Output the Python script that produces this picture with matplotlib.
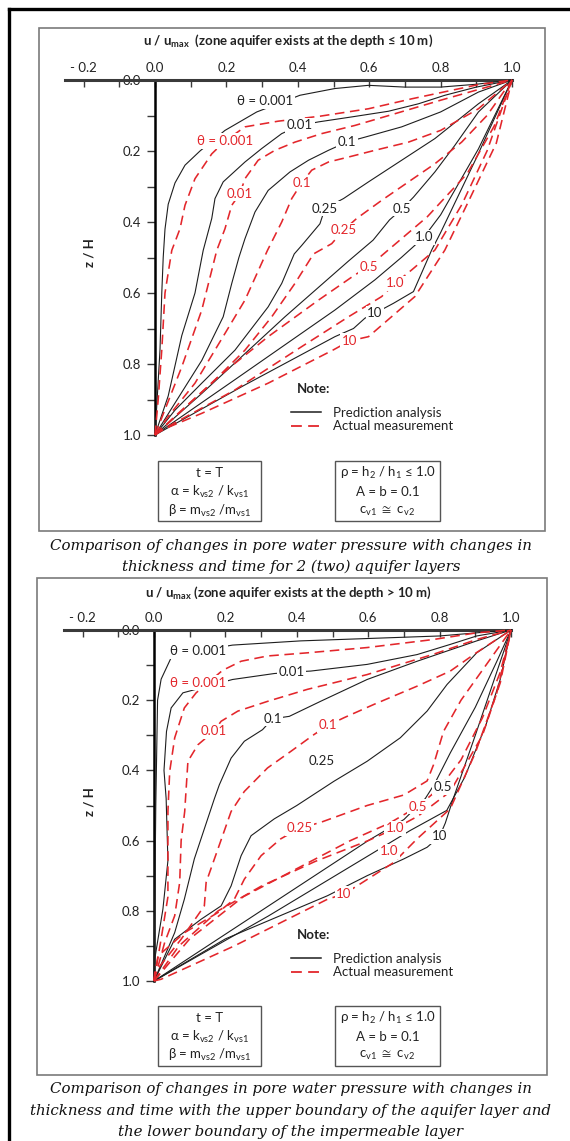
import matplotlib
matplotlib.use('Agg')
import matplotlib.pyplot as plt
from matplotlib.lines import Line2D
from matplotlib.patches import Rectangle
import numpy as np

#####################
# DATA  (u/umax, z/H), one list of points per theta
theta = ['0.001', '0.01', '0.1', '0.25', '0.5', '1.0', '10']

p1_pred = [
    [(0, 1), (0.006, 0.9), (0.014, 0.76), (0.019, 0.6), (0.023, 0.5), (0.028, 0.42), (0.037, 0.35), (0.056, 0.29),
     (0.084, 0.24), (0.126, 0.2), (0.196, 0.142), (0.285, 0.09), (0.35, 0.065), (0.406, 0.043), (0.504, 0.024),
     (0.598, 0.015), (0.7, 0.02), (0.8, 0.02), (0.9, 0.012), (1, 0)],
    [(0, 1), (0.037, 0.89), (0.075, 0.72), (0.112, 0.6), (0.135, 0.48), (0.159, 0.39), (0.168, 0.334), (0.191, 0.287),
     (0.252, 0.231), (0.299, 0.193), (0.355, 0.151), (0.406, 0.128), (0.458, 0.118), (0.551, 0.104), (0.654, 0.088),
     (0.738, 0.067), (0.812, 0.043), (0.9, 0.02), (1, 0)],
    [(0, 1), (0.056, 0.91), (0.131, 0.79), (0.191, 0.667), (0.215, 0.573), (0.235, 0.5), (0.252, 0.447), (0.28, 0.372),
     (0.317, 0.311), (0.378, 0.259), (0.43, 0.226), (0.486, 0.198), (0.537, 0.175), (0.588, 0.161), (0.691, 0.132),
     (0.8, 0.09), (0.906, 0.034), (1, 0)],
    [(0, 1), (0.056, 0.93), (0.131, 0.854), (0.224, 0.761), (0.317, 0.639), (0.355, 0.573), (0.39, 0.49), (0.411, 0.466),
     (0.462, 0.405), (0.476, 0.362), (0.528, 0.334), (0.598, 0.287), (0.691, 0.226), (0.784, 0.165), (0.906, 0.067), (1, 0)],
    [(0, 1), (0.131, 0.883), (0.364, 0.667), (0.542, 0.51), (0.611, 0.451), (0.657, 0.394), (0.692, 0.363), (0.724, 0.33),
     (0.784, 0.259), (0.84, 0.184), (0.906, 0.09), (1, 0)],
    [(0, 1), (0.224, 0.844), (0.504, 0.648), (0.616, 0.563), (0.69, 0.5), (0.753, 0.443), (0.8, 0.38), (0.906, 0.194), (1, 0)],
    [(0, 1), (0.25, 0.86), (0.504, 0.723), (0.556, 0.7), (0.588, 0.671), (0.616, 0.657), (0.668, 0.629), (0.724, 0.596),
     (0.775, 0.479), (0.8, 0.43), (0.9, 0.22), (1, 0)],
]
p1_meas = [
    [(0, 1), (0.009, 0.9), (0.019, 0.76), (0.028, 0.6), (0.047, 0.48), (0.07, 0.419), (0.084, 0.353), (0.112, 0.278),
     (0.159, 0.208), (0.196, 0.172), (0.252, 0.132), (0.345, 0.116), (0.462, 0.102), (0.598, 0.081), (0.719, 0.053),
     (0.906, 0.013), (1, 0)],
    [(0, 1), (0.075, 0.808), (0.131, 0.648), (0.173, 0.48), (0.196, 0.419), (0.215, 0.353), (0.238, 0.32), (0.252, 0.278),
     (0.289, 0.226), (0.336, 0.198), (0.392, 0.175), (0.467, 0.151), (0.56, 0.128), (0.672, 0.095), (0.8, 0.057), (1, 0)],
    [(0, 1), (0.037, 0.948), (0.112, 0.854), (0.196, 0.714), (0.252, 0.62), (0.315, 0.48), (0.355, 0.4), (0.383, 0.334),
     (0.411, 0.29), (0.439, 0.254), (0.486, 0.231), (0.542, 0.217), (0.616, 0.198), (0.71, 0.175), (0.8, 0.142),
     (0.906, 0.081), (1, 0)],
    [(0, 1), (0.065, 0.939), (0.159, 0.854), (0.252, 0.761), (0.327, 0.667), (0.392, 0.573), (0.444, 0.49), (0.495, 0.461),
     (0.528, 0.423), (0.565, 0.39), (0.635, 0.339), (0.71, 0.287), (0.784, 0.236), (0.859, 0.175), (0.93, 0.1), (1, 0)],
    [(0, 1), (0.037, 0.967), (0.177, 0.836), (0.317, 0.723), (0.458, 0.62), (0.56, 0.549), (0.598, 0.526), (0.631, 0.498),
     (0.763, 0.385), (0.875, 0.263), (0.95, 0.13), (1, 0)],
    [(0, 1), (0.037, 0.976), (0.224, 0.873), (0.411, 0.751), (0.542, 0.667), (0.635, 0.61), (0.672, 0.573), (0.719, 0.535),
     (0.784, 0.479), (0.86, 0.35), (0.93, 0.2), (1, 0)],
    [(0, 1), (0.009, 0.99), (0.131, 0.939), (0.317, 0.854), (0.5, 0.76), (0.545, 0.735), (0.598, 0.723), (0.728, 0.61),
     (0.812, 0.479), (0.88, 0.338), (0.956, 0.178), (1, 0)],
]
p1_pred_lab = [(0.308, 0.059, 'θ = 0.001'), (0.406, 0.128, '0.01'), (0.537, 0.175, '0.1'), (0.476, 0.362, '0.25'),
               (0.692, 0.363, '0.5'), (0.753, 0.443, '1.0'), (0.616, 0.657, '10')]
p1_meas_lab = [(0.196, 0.172, 'θ = 0.001'), (0.238, 0.32, '0.01'), (0.411, 0.29, '0.1'), (0.528, 0.423, '0.25'),
               (0.598, 0.526, '0.5'), (0.672, 0.573, '1.0'), (0.545, 0.735, '10')]

p2_pred = [
    [(0, 1), (0.002, 0.8), (0.005, 0.5), (0.01, 0.2), (0.02, 0.14), (0.048, 0.079), (0.123, 0.06), (0.22, 0.043),
     (0.411, 0.031), (0.8, 0.017), (0.904, 0.008), (1, 0)],
    [(0, 1), (0.002, 0.938), (0.025, 0.795), (0.039, 0.657), (0.034, 0.48), (0.028, 0.4), (0.035, 0.289), (0.048, 0.222),
     (0.081, 0.179), (0.22, 0.141), (0.337, 0.124), (0.385, 0.12), (0.439, 0.117), (0.597, 0.098), (0.737, 0.07),
     (0.83, 0.041), (0.904, 0.017), (1, 0)],
    [(0, 1), (0.058, 0.862), (0.085, 0.767), (0.113, 0.652), (0.169, 0.481), (0.183, 0.441), (0.216, 0.365), (0.253, 0.317),
     (0.304, 0.284), (0.332, 0.253), (0.379, 0.246), (0.467, 0.203), (0.597, 0.141), (0.737, 0.089), (0.904, 0.031), (1, 0)],
    [(0, 1), (0.058, 0.881), (0.132, 0.824), (0.188, 0.786), (0.216, 0.729), (0.244, 0.643), (0.272, 0.586), (0.337, 0.538),
     (0.4, 0.5), (0.504, 0.431), (0.597, 0.374), (0.69, 0.307), (0.765, 0.231), (0.821, 0.155), (0.904, 0.065), (1, 0)],
    [(0, 1), (0.3, 0.8), (0.6, 0.6), (0.7, 0.54), (0.76, 0.48), (0.785, 0.44), (0.83, 0.35), (0.9, 0.22), (0.96, 0.09), (1, 0)],
    [(0, 1), (0.32, 0.815), (0.617, 0.633), (0.718, 0.571), (0.82, 0.514), (0.87, 0.42), (0.93, 0.27), (0.97, 0.14), (1, 0)],
    [(0, 1), (0.2, 0.88), (0.486, 0.757), (0.597, 0.7), (0.7, 0.652), (0.765, 0.619), (0.8, 0.588), (0.816, 0.55),
     (0.837, 0.484), (0.9, 0.3), (0.96, 0.12), (1, 0)],
]
p2_meas = [
    [(0, 1), (0.02, 0.88), (0.039, 0.76), (0.039, 0.517), (0.044, 0.403), (0.058, 0.307), (0.085, 0.222), (0.118, 0.179),
     (0.192, 0.115), (0.244, 0.089), (0.318, 0.074), (0.43, 0.065), (0.597, 0.05), (0.783, 0.027), (0.904, 0.008), (1, 0)],
    [(0, 1), (0.03, 0.89), (0.058, 0.814), (0.072, 0.719), (0.076, 0.6), (0.086, 0.517), (0.095, 0.374), (0.123, 0.327),
     (0.167, 0.289), (0.188, 0.26), (0.235, 0.231), (0.319, 0.203), (0.43, 0.169), (0.597, 0.127), (0.783, 0.069),
     (0.904, 0.027), (1, 0)],
    [(0, 1), (0.002, 0.976), (0.076, 0.881), (0.141, 0.786), (0.146, 0.719), (0.179, 0.624), (0.216, 0.517), (0.253, 0.46),
     (0.318, 0.393), (0.383, 0.346), (0.448, 0.298), (0.487, 0.272), (0.532, 0.25), (0.616, 0.212), (0.737, 0.16),
     (0.83, 0.117), (0.904, 0.064), (1, 0)],
    [(0, 1), (0.011, 0.929), (0.086, 0.862), (0.179, 0.805), (0.225, 0.767), (0.253, 0.71), (0.3, 0.643), (0.355, 0.595),
     (0.407, 0.565), (0.467, 0.548), (0.597, 0.5), (0.7, 0.47), (0.765, 0.43), (0.783, 0.384), (0.811, 0.289), (0.86, 0.2),
     (0.93, 0.1), (1, 0)],
    [(0, 1), (0.1, 0.88), (0.25, 0.76), (0.4, 0.68), (0.55, 0.6), (0.66, 0.55), (0.739, 0.503), (0.8, 0.45), (0.86, 0.37),
     (0.92, 0.25), (0.97, 0.12), (1, 0)],
    [(0, 1), (0.07, 0.9), (0.18, 0.8), (0.3, 0.73), (0.45, 0.66), (0.6, 0.6), (0.676, 0.565), (0.74, 0.53), (0.83, 0.46),
     (0.92, 0.3), (0.97, 0.15), (1, 0)],
    [(0, 1), (0.02, 0.995), (0.225, 0.9), (0.486, 0.767), (0.532, 0.752), (0.569, 0.729), (0.672, 0.662), (0.7, 0.633),
     (0.737, 0.595), (0.83, 0.509), (0.9, 0.35), (0.96, 0.18), (1, 0)],
]
p2_pred_lab = [(0.123, 0.06, 'θ = 0.001'), (0.385, 0.12, '0.01'), (0.332, 0.253, '0.1'), (0.469, 0.372, '0.25'),
               (0.81, 0.448, '0.5'), (0.8, 0.588, '10')]
p2_meas_lab = [(0.123, 0.15, 'θ = 0.001'), (0.167, 0.289, '0.01'), (0.487, 0.272, '0.1'), (0.407, 0.565, '0.25'),
               (0.739, 0.503, '0.5'), (0.676, 0.565, '1.0'), (0.658, 0.631, '1.0'), (0.532, 0.752, '10')]

x_major = [-0.2, 0.0, 0.2, 0.4, 0.6, 0.8, 1.0]
x_labels = ['- 0.2', '0.0', '0.2', '0.4', '0.6', '0.8', '1.0']
y_major = [0.0, 0.2, 0.4, 0.6, 0.8, 1.0]

titles = ['u / u$_\\mathregular{max}$  (zone aquifer exists at the depth \u2264 10 m)',
          'u / u$_\\mathregular{max}$ (zone aquifer exists at the depth > 10 m)']
box_left = ['t = T', '\u03b1 = k$_\\mathregular{vs2}$ / k$_\\mathregular{vs1}$',
            '\u03b2 = m$_\\mathregular{vs2}$ /m$_\\mathregular{vs1}$']
box_right = ['\u03c1 = h$_\\mathregular{2}$ / h$_\\mathregular{1}$ \u2264 1.0', 'A = b = 0.1',
             'c$_\\mathregular{v1}$ $\\cong$ c$_\\mathregular{v2}$']
captions = [['Comparison of changes in pore water pressure with changes in',
             'thickness and time for 2 (two) aquifer layers'],
            ['Comparison of changes in pore water pressure with changes in',
             'thickness and time with the upper boundary of the aquifer layer and',
             'the lower boundary of the impermeable layer']]

#####################
W, H = 570, 1141
plt.rcParams['font.family'] = ['Lato', 'DejaVu Sans']
plt.rcParams['mathtext.fontset'] = 'custom'
plt.rcParams['mathtext.rm'] = 'Lato'
plt.rcParams['mathtext.fallback'] = 'stixsans'
BLK = '#1e1e1e'
RED = '#e3262b'
DASH = (0, (6, 3.5))

fig = plt.figure(figsize=(W / 100, H / 100), dpi=100)
fig.patch.set_facecolor('white')


def fx(px):
    return px / W


def fy(py):
    return 1 - py / H


def frame(x0, y0, x1, y1, color, lw):
    fig.patches.append(Rectangle((fx(x0), fy(y1)), fx(x1) - fx(x0), fy(y0) - fy(y1), transform=fig.transFigure,
                                 fill=False, ec=color, lw=lw))


# outer black frame (only left and top visible)
fig.add_artist(Line2D([fx(9), fx(9)], [fy(9), 0], color='black', lw=2.4, transform=fig.transFigure))
fig.add_artist(Line2D([fx(9), 1], [fy(9), fy(9)], color='black', lw=2.4, transform=fig.transFigure))

# layout of each panel in pixels
panels = [
    dict(pred=p1_pred, meas=p1_meas, plab=p1_pred_lab, mlab=p1_meas_lab, u0=155, u1=512, z0=80, z1=435,
         box=(39, 28, 545, 531), title_y=41, ylab_y=253, note_y=389, leg_y=419.5, box_y=(461, 521),
         txt_y=(473, 492, 511), cap_y=(546, 567)),
    dict(pred=p2_pred, meas=p2_meas, plab=p2_pred_lab, mlab=p2_meas_lab, u0=154, u1=511, z0=630, z1=981,
         box=(37, 578, 547, 1075), title_y=593, ylab_y=802, note_y=935, leg_y=965.5, box_y=(1006, 1066),
         txt_y=(1018, 1037, 1055), cap_y=(1089, 1111, 1132)),
]

for k, p in enumerate(panels):
    frame(*p['box'], color='#7a7a7a', lw=1.2)
    sc = p['u1'] - p['u0']
    left = p['u0'] - 0.252 * sc
    ax = fig.add_axes([fx(left), fy(p['z1']), fx(p['u1']) - fx(left), fy(p['z0']) - fy(p['z1'])])
    ax.set_xlim(-0.252, 1.0)
    ax.set_ylim(1.0, 0.0)
    ax.patch.set_alpha(0)
    for s in ['right', 'bottom']:
        ax.spines[s].set_visible(False)
    ax.spines['top'].set_linewidth(2.2)
    ax.spines['top'].set_color('#3a3a3a')
    ax.spines['left'].set_position(('data', 0))
    ax.spines['left'].set_linewidth(1.8)
    ax.spines['left'].set_color('black')
    ax.xaxis.tick_top()
    ax.set_xticks(x_major)
    ax.set_xticklabels(x_labels)
    ax.set_xticks(np.arange(-0.1, 1.0, 0.2), minor=True)
    ax.set_yticks(y_major)
    ax.set_yticklabels(['%.1f' % v for v in y_major])
    ax.set_yticks(np.arange(0.1, 1.0, 0.2), minor=True)
    ax.tick_params(axis='x', which='both', direction='in', length=5, width=1, color='#3a3a3a', pad=4,
                   labelsize=9.5, labelcolor='#222222')
    ax.tick_params(axis='y', which='both', direction='out', length=6, width=1, color='#3a3a3a', pad=4,
                   labelsize=9.5, labelcolor='#222222')

    for pts in p['pred']:
        u, z = zip(*pts)
        ax.plot(u, z, color=BLK, lw=0.8, zorder=3, clip_on=False)
    for pts in p['meas']:
        u, z = zip(*pts)
        ax.plot(u, z, color=RED, lw=1.15, ls=DASH, zorder=3, clip_on=False)
    for u, z, s in p['plab']:
        ax.text(u, z, s, ha='center', va='center', fontsize=9.5, color='#222222', zorder=5,
                bbox=dict(boxstyle='square,pad=0.12', fc='white', ec='none'))
    for u, z, s in p['mlab']:
        ax.text(u, z, s, ha='center', va='center', fontsize=9.5, color=RED, zorder=5,
                bbox=dict(boxstyle='square,pad=0.12', fc='white', ec='none'))

    # titles and axis label
    fig.text(fx(288), fy(p['title_y']), titles[k], ha='center', va='center', fontsize=9.5, fontweight='bold',
             color='#222222')
    fig.text(fx(90), fy(p['ylab_y']), 'z / H', ha='center', va='center', rotation=90, fontsize=9.5,
             fontweight='bold', color='#222222')

    # legend (Note)
    fig.text(fx(297), fy(p['note_y']), 'Note:', ha='left', va='center', fontsize=9.5, fontweight='bold',
             color='#222222')
    hs = [Line2D([], [], color=BLK, lw=1.1), Line2D([], [], color=RED, lw=1.3, ls=DASH)]
    leg = ax.legend(hs, ['Prediction analysis', 'Actual measurement'], frameon=False,
                    loc='center left', bbox_to_anchor=(fx(284), fy(p['leg_y'])), bbox_transform=fig.transFigure,
                    fontsize=9.5, handlelength=2.3, handletextpad=0.9, labelspacing=0.15, borderpad=0)
    for t in leg.get_texts():
        t.set_color('#222222')

    # parameter boxes
    by0, by1 = p['box_y']
    for (bx0, bx1), lines in zip([(158, 261), (335, 440)], [box_left, box_right]):
        frame(bx0, by0, bx1, by1, color='#555555', lw=1.0)
        for ty, s in zip(p['txt_y'], lines):
            fig.text(fx((bx0 + bx1) / 2), fy(ty), s, ha='center', va='center', fontsize=9.5, color='#222222')

    # caption
    for cy, s in zip(p['cap_y'], captions[k]):
        fig.text(fx(291), fy(cy), s, ha='center', va='center', fontsize=10.8, family='DejaVu Serif',
                 style='italic', color='#111111')

plt.savefig('out.png', dpi=100)
